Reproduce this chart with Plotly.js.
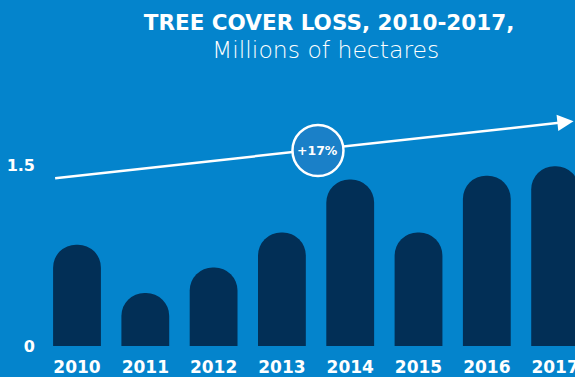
<!DOCTYPE html>
<html>
<head>
<meta charset="utf-8">
<script src="https://cdn.plot.ly/plotly-3.0.1.min.js"></script>
<style>html,body{margin:0;padding:0;background:#0484cc;}#chart{width:575px;height:377px;}</style>
</head>
<body>
<div id="chart"></div>
<script>
// Data
var years = ['2010','2011','2012','2013','2014','2015','2016','2017'];
var loss = [0.84, 0.44, 0.65, 0.94, 1.38, 0.94, 1.41, 1.49];
var trendX = [-0.32, 7.22];
var trendY = [1.39, 1.86];
var changeLabel = '+17%';
var yTicks = [0, 1.5];
var yTickText = ['0', '1.5'];

var bg = '#0484cc';
var barColor = '#022f56';
var fam = 'DejaVu Sans';

var traces = [
  {
    type: 'bar',
    x: [0,1,2,3,4,5,6,7],
    y: loss,
    width: 0.70,
    marker: {color: barColor, cornerradius: '50%'},
    hoverinfo: 'skip'
  },
  {
    type: 'scatter',
    mode: 'lines',
    x: trendX,
    y: trendY,
    line: {color: '#ffffff', width: 2.5},
    hoverinfo: 'skip',
    cliponaxis: false
  }
];

var layout = {
  width: 575,
  height: 377,
  paper_bgcolor: bg,
  plot_bgcolor: bg,
  showlegend: false,
  margin: {l: 38, r: 0, t: 60, b: 31},
  title: {
    text: '<b>TREE COVER LOSS, 2010-2017,</b>',
    font: {family: fam, size: 21.5, color: '#ffffff'},
    x: 0.542, xanchor: 'center', xref: 'paper',
    y: 0.941, yanchor: 'middle', yref: 'container'
  },
  xaxis: {
    range: [-0.571, 7.291],
    tickvals: [0,1,2,3,4,5,6,7],
    ticktext: years,
    showgrid: false, zeroline: false, showline: false, ticks: '',
    tickfont: {family: fam, size: 17, color: '#ffffff', weight: 700},
    ticklabelstandoff: 9,
    ticklabeloverflow: 'allow',
    fixedrange: true
  },
  yaxis: {
    range: [0, 2.37],
    tickvals: yTicks,
    ticktext: yTickText,
    showgrid: false, zeroline: false, showline: false, ticks: '',
    tickfont: {family: fam, size: 16, color: '#ffffff', weight: 700},
    ticklabelstandoff: 2,
    fixedrange: true
  },
  shapes: [
    {
      type: 'circle', layer: 'above',
      xref: 'x', yref: 'y',
      xsizemode: 'pixel', ysizemode: 'pixel',
      xanchor: 3.528, yanchor: 1.62,
      x0: -25.5, x1: 25.5, y0: -25.5, y1: 25.5,
      fillcolor: '#1a80c8',
      line: {color: '#ffffff', width: 2.5}
    }
  ],
  annotations: [
    {
      x: 0.535, y: 1.035, xref: 'paper', yref: 'paper',
      xanchor: 'center', yanchor: 'middle',
      text: 'Millions of hectares', showarrow: false,
      font: {family: fam, size: 23.5, color: '#ffffff', weight: 200}
    },
    {
      x: 3.528, y: 1.62, xref: 'x', yref: 'y',
      text: '<b>' + changeLabel + '</b>', showarrow: false,
      font: {family: fam, size: 12.5, color: '#ffffff'}
    },
    {
      x: trendX[1] + 0.05, y: trendY[1] + 0.003, xref: 'x', yref: 'y',
      ax: -12, ay: 1.3, axref: 'pixel', ayref: 'pixel',
      text: '', showarrow: true,
      arrowhead: 2, arrowsize: 1.3, arrowwidth: 2.5, arrowcolor: '#ffffff'
    }
  ]
};

Plotly.newPlot('chart', traces, layout, {displayModeBar: false, staticPlot: true});
</script>
</body>
</html>
